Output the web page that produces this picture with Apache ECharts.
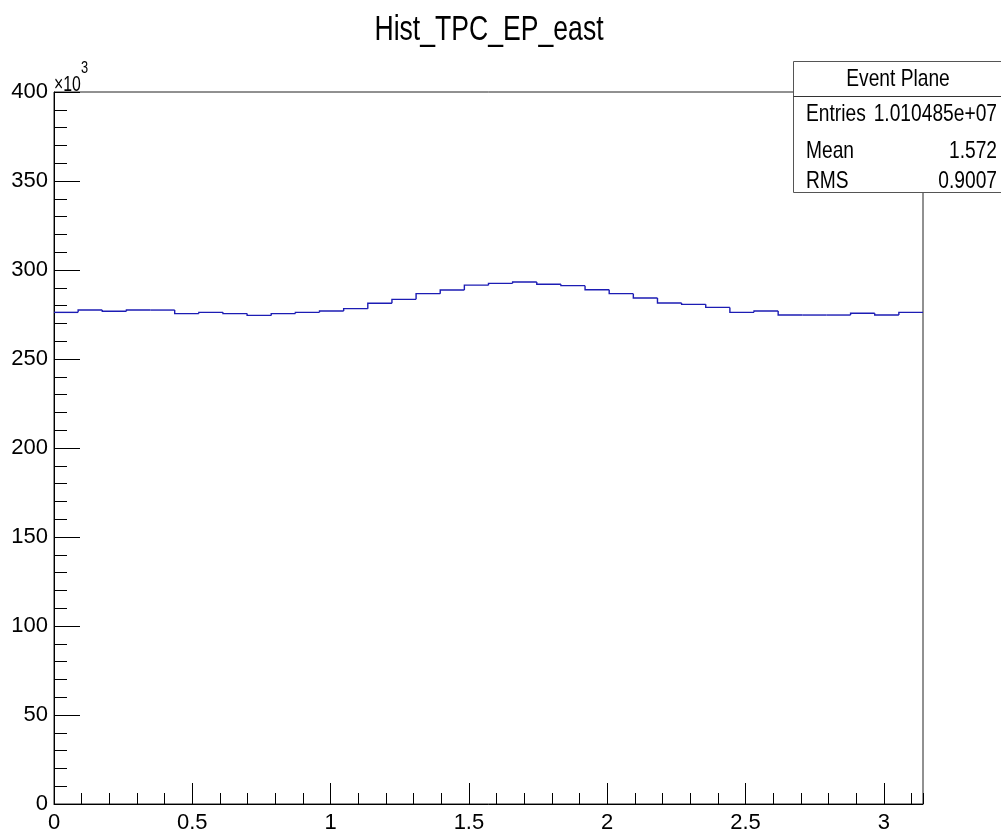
<!DOCTYPE html>
<html><head><meta charset="utf-8">
<script src="https://cdn.jsdelivr.net/npm/echarts@6/dist/echarts.min.js"></script>
<style>html,body{margin:0;padding:0;background:#fff}#c{width:1001px;height:837px}</style>
</head><body><div id="c"></div>
<script>
// ---- data ----
const chartTitle = 'Hist_TPC_EP_east';
const xMin = 0;
const xMax = Math.PI;
const binCount = 36;
// bin contents in units of 10^3
const counts = [276.2, 277.5, 276.8, 277.5, 277.5, 275.5, 276.2, 275.5, 274.5, 275.5, 276.2, 277.0,
                278.3, 281.3, 283.5, 286.7, 288.8, 291.5, 292.5, 293.3, 292.0, 291.2, 288.9, 286.7,
                284.3, 281.5, 280.7, 279.0, 276.2, 277.0, 274.7, 274.7, 274.7, 275.7, 274.7, 276.2];
const yMin = 0, yMax = 400, yStep = 50;
const xStep = 0.5, xMinorStep = 0.1;
const yUnitBase = '×10', yUnitExp = '3';
const statsTitle = 'Event Plane';
const statsLabels = ['Entries', 'Mean', 'RMS'];
const statsValues = ['1.010485e+07', '1.572', '0.9007'];

// ---- build ----
const FONT = '"Liberation Sans", Arial, sans-serif';
const binW = (xMax - xMin) / binCount;
// [low edge, high edge, content, previous content]
const binItems = counts.map((v, i) => [xMin + i * binW, xMin + (i + 1) * binW, v, i > 0 ? counts[i - 1] : v]);

const chart = echarts.init(document.getElementById('c'), null, {renderer: 'canvas'});
const statRowsY = [114, 151, 181];
const NARROW = 0.8;
const graphics = [
  {type: 'text', z: 100, x: 489, y: 30, scaleX: 0.76, style: {text: chartTitle, font: '35px ' + FONT, fill: '#000', align: 'center', verticalAlign: 'middle'}},
  {type: 'text', z: 100, x: 54, y: 85, scaleX: 0.72, style: {text: yUnitBase, font: '22px ' + FONT, fill: '#000', align: 'left', verticalAlign: 'middle'}},
  {type: 'text', z: 100, x: 81, y: 69, scaleX: 0.8, style: {text: yUnitExp, font: '16px ' + FONT, fill: '#000', align: 'left', verticalAlign: 'middle'}},
  {type: 'rect', z: 100, shape: {x: 793.5, y: 61.5, width: 215, height: 131}, style: {fill: '#fff', stroke: '#555', lineWidth: 1}},
  {type: 'line', z: 101, shape: {x1: 793.5, y1: 96.5, x2: 1001, y2: 96.5}, style: {stroke: '#333', lineWidth: 1}},
  {type: 'text', z: 101, x: 898, y: 79, scaleX: NARROW, style: {text: statsTitle, font: '24px ' + FONT, fill: '#000', align: 'center', verticalAlign: 'middle'}}
];
statsLabels.forEach((lab, i) => {
  graphics.push({type: 'text', z: 101, x: 806, y: statRowsY[i], scaleX: NARROW, style: {text: lab, font: '24px ' + FONT, fill: '#000', align: 'left', verticalAlign: 'middle'}});
  graphics.push({type: 'text', z: 101, x: 997, y: statRowsY[i], scaleX: NARROW, style: {text: statsValues[i], font: '24px ' + FONT, fill: '#000', align: 'right', verticalAlign: 'middle'}});
});

chart.setOption({
  animation: false,
  backgroundColor: '#fff',
  grid: {left: 54, right: 78, top: 92, bottom: 33, show: true, borderColor: '#222', borderWidth: 1, backgroundColor: 'transparent'},
  xAxis: [
    {
      type: 'value', min: xMin, max: xMax, interval: xStep, position: 'bottom',
      axisLine: {show: true, lineStyle: {color: '#000', width: 1}},
      axisTick: {show: true, inside: true, length: 21, lineStyle: {color: '#000'}},
      axisLabel: {show: true, showMaxLabel: false, margin: 8, fontFamily: FONT, fontSize: 22, color: '#000',
                  formatter: v => String(Math.round(v * 10) / 10)},
      splitLine: {show: false}
    },
    {
      type: 'value', min: xMin, max: xMax, interval: xMinorStep, position: 'bottom', offset: 0,
      axisLine: {show: false},
      axisTick: {show: true, inside: true, length: 11, lineStyle: {color: '#000'}},
      axisLabel: {show: false},
      splitLine: {show: false}
    }
  ],
  yAxis: {
    type: 'value', min: yMin, max: yMax, interval: yStep,
    axisLine: {show: true, lineStyle: {color: '#000', width: 1}},
    axisTick: {show: true, inside: true, length: 26, lineStyle: {color: '#000'}},
    minorTick: {show: true, splitNumber: 5, length: 13, lineStyle: {color: '#000'}},
    axisLabel: {show: true, margin: 6, fontFamily: FONT, fontSize: 22, color: '#000'},
    splitLine: {show: false}, minorSplitLine: {show: false}
  },
  series: [{
    type: 'custom', name: 'Event Plane', coordinateSystem: 'cartesian2d', xAxisIndex: 0, yAxisIndex: 0,
    encode: {x: [0, 1], y: [2, 3]}, data: binItems, clip: true,
    renderItem: (params, api) => {
      const p = api.coord([api.value(0), api.value(3)]);
      const a = api.coord([api.value(0), api.value(2)]);
      const b = api.coord([api.value(1), api.value(2)]);
      return {type: 'polyline', shape: {points: [p, a, b]}, style: {stroke: '#1c1cb4', lineWidth: 1.4, fill: null}};
    }
  }],
  graphic: graphics
});
</script></body></html>
